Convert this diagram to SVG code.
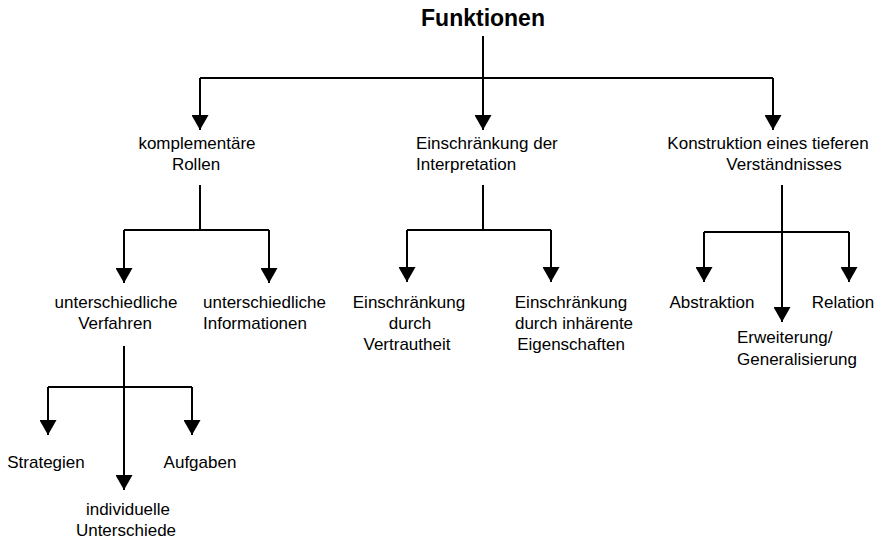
<svg xmlns="http://www.w3.org/2000/svg" width="882" height="539" viewBox="0 0 882 539">
<style>
  text { font-family: "Liberation Sans", Arial, sans-serif; font-size: 17px; fill: #000; }
  .c { text-anchor: middle; }
  .title { font-size: 23px; font-weight: bold; text-anchor: middle; }
  .ln { fill: none; stroke: #000; stroke-width: 2; }
  .ar { marker-end: url(#arr); }
</style>
<defs>
  <marker id="arr" markerUnits="userSpaceOnUse" markerWidth="15" markerHeight="17" viewBox="0 0 15 17" refX="15" refY="8.5" orient="auto">
    <path d="M0,0 L15,8.5 L0,17 z" fill="#000"/>
  </marker>
</defs>
<rect width="882" height="539" fill="#fff"/>
<g id="connectors">
  <path class="ln ar" d="M483,36 V130"/>
  <path class="ln" d="M200,78 H773"/>
  <path class="ln ar" d="M200,78 V130"/>
  <path class="ln ar" d="M773,78 V130"/>
  <path class="ln" d="M200,185 V230 M124,230 H269"/>
  <path class="ln ar" d="M124,230 V283"/>
  <path class="ln ar" d="M269,230 V283"/>
  <path class="ln ar" d="M124,346 V490"/>
  <path class="ln" d="M48,387 H192"/>
  <path class="ln ar" d="M48,387 V435"/>
  <path class="ln ar" d="M192,387 V435"/>
  <path class="ln" d="M483,185 V230 M407,230 H551"/>
  <path class="ln ar" d="M407,230 V282"/>
  <path class="ln ar" d="M551,230 V282"/>
  <path class="ln ar" d="M782,185 V322"/>
  <path class="ln" d="M704,232 H849"/>
  <path class="ln ar" d="M704,232 V282"/>
  <path class="ln ar" d="M849,232 V282"/>
</g>
<g id="funktionen"><text class="title" x="483" y="26">Funktionen</text></g>
<g id="komplementaere-rollen">
  <text class="c" x="197" y="149">komplementäre</text>
  <text class="c" x="196" y="170">Rollen</text>
</g>
<g id="einschraenkung-interpretation">
  <text x="416" y="149">Einschränkung der</text>
  <text x="416" y="170">Interpretation</text>
</g>
<g id="konstruktion">
  <text class="c" x="768" y="149">Konstruktion eines tieferen</text>
  <text class="c" x="784" y="170">Verständnisses</text>
</g>
<g id="unterschiedliche-verfahren">
  <text class="c" x="116" y="308">unterschiedliche</text>
  <text class="c" x="115" y="329">Verfahren</text>
</g>
<g id="unterschiedliche-informationen">
  <text x="203" y="308">unterschiedliche</text>
  <text x="203" y="329">Informationen</text>
</g>
<g id="einschraenkung-vertrautheit">
  <text class="c" x="409" y="308">Einschränkung</text>
  <text class="c" x="410" y="329">durch</text>
  <text class="c" x="407" y="350">Vertrautheit</text>
</g>
<g id="einschraenkung-eigenschaften">
  <text class="c" x="571" y="308">Einschränkung</text>
  <text class="c" x="574" y="329">durch inhärente</text>
  <text class="c" x="571" y="350">Eigenschaften</text>
</g>
<g id="abstraktion"><text class="c" x="712" y="308">Abstraktion</text></g>
<g id="relation"><text class="c" x="843" y="308">Relation</text></g>
<g id="erweiterung">
  <text x="737" y="343">Erweiterung/</text>
  <text x="737" y="365">Generalisierung</text>
</g>
<g id="strategien"><text class="c" x="46" y="468">Strategien</text></g>
<g id="aufgaben"><text class="c" x="200" y="468">Aufgaben</text></g>
<g id="individuelle-unterschiede">
  <text class="c" x="128" y="515">individuelle</text>
  <text class="c" x="126" y="536">Unterschiede</text>
</g>
</svg>
